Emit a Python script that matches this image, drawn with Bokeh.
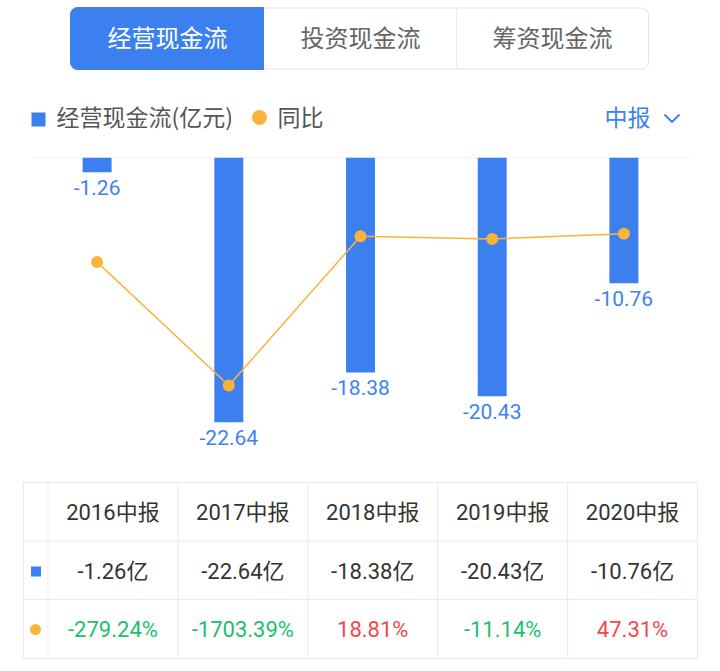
from bokeh.plotting import figure
from bokeh.models import Range1d, BoxAnnotation, ColumnDataSource, FactorRange
from bokeh.layouts import column
from bokeh.core.properties import value
from bokeh.embed import file_html
from bokeh.resources import INLINE

# ---------------- data ----------------
periods = ["2016中报", "2017中报", "2018中报", "2019中报", "2020中报"]
cash_flow = [-1.26, -22.64, -18.38, -20.43, -10.76]          # 亿元
yoy = [-279.24, -1703.39, 18.81, -11.14, 47.31]             # %
tabs = ["经营现金流", "投资现金流", "筹资现金流"]
legend_bar = "经营现金流(亿元)"
legend_line = "同比"
period_selector = "中报"

BLUE = "#3b80ee"
LABEL_BLUE = "#3d82f0"
ORANGE = "#fbb437"
GREEN = "#1dbf6b"
RED = "#f2484b"
DARK = "#333333"
GRID = "#ebebeb"
FONT = "Roboto, 'Noto Sans CJK SC'"
CJK = "Noto Sans CJK SC"
W = 720


def blank(fig):
    fig.xgrid.visible = False
    fig.ygrid.visible = False
    fig.outline_line_color = None
    fig.background_fill_color = "white"
    fig.border_fill_color = "white"
    return fig


# ---------------- header: tabs + legend ----------------
top = figure(width=W, height=157, x_range=Range1d(0, W), y_range=Range1d(157, 0),
             x_axis_type=None, y_axis_type=None, toolbar_location=None,
             output_backend="svg", min_border=0)
blank(top)
top.add_layout(BoxAnnotation(left=70, right=648, top=7.5, bottom=68.5, fill_color="white",
                             fill_alpha=1, line_color="#e3e3e3", line_alpha=1, line_width=1,
                             border_radius=7, level="underlay"))
top.add_layout(BoxAnnotation(left=70, right=263, top=7, bottom=69, fill_color=BLUE, fill_alpha=1,
                             line_color=BLUE, line_alpha=1, line_width=1, level="underlay",
                             border_radius=dict(top_left=7, top_right=0, bottom_right=0, bottom_left=7)))
top.segment(x0=[456], y0=[8], x1=[456], y1=[68], line_color="#ececec", line_width=1)
tab_x = [167, 360, 552]
top.text(x=tab_x, y=[36] * 3, text=tabs, text_color=["white", "#666666", "#666666"],
         text_font=value(CJK), text_font_size="24px", text_align="center", text_baseline="middle")

top.rect(x=[38], y=[119], width=14, height=14, fill_color=BLUE, line_color=None)
top.text(x=[56], y=[115], text=[legend_bar], text_color="#555555", text_font=value(CJK),
         text_font_size="23px", text_align="left", text_baseline="middle")
top.scatter(x=[259], y=[117], size=15, marker="circle", fill_color=ORANGE, line_color=None)
top.text(x=[277], y=[115], text=[legend_line], text_color="#555555", text_font=value(CJK),
         text_font_size="23px", text_align="left", text_baseline="middle")
top.text(x=[650], y=[115], text=[period_selector], text_color=LABEL_BLUE, text_font=value(CJK),
         text_font_size="23px", text_align="right", text_baseline="middle")
top.line(x=[664, 671.5, 679], y=[114, 121.5, 114], line_color=LABEL_BLUE, line_width=2)

# ---------------- chart ----------------
src = ColumnDataSource(dict(x=periods, v=cash_flow, yoy=yoy,
                            lbl=[f"{v:.2f}" for v in cash_flow]))
xr = FactorRange(factors=periods, range_padding=0.2335, range_padding_units="absolute")
p = figure(width=W, height=304, x_range=xr, y_range=Range1d(-26, 0),
           x_axis_type=None, y_axis_type=None, toolbar_location=None, output_backend="svg",
           min_border=0)
blank(p)
p.extra_y_ranges = {"yoy": Range1d(-2580, 928)}
p.segment(x0=[0], y0=[0], x1=[len(periods)], y1=[0], line_color="#eeeeee", line_width=1.5)
p.vbar(x="x", top=0, bottom="v", width=0.22, source=src, fill_color=BLUE, line_color=None)
p.text(x="x", y="v", text="lbl", source=src, text_color=LABEL_BLUE, text_font=value(FONT),
       text_font_size="21px", text_align="center", text_baseline="top", y_offset=8)
p.line(x="x", y="yoy", source=src, y_range_name="yoy", line_color=ORANGE, line_width=1.5)
p.scatter(x="x", y="yoy", source=src, y_range_name="yoy", size=12, marker="circle",
          fill_color=ORANGE, line_color=None)

# ---------------- table ----------------
t = figure(width=W, height=210, x_range=Range1d(0, W), y_range=Range1d(671, 461),
           x_axis_type=None, y_axis_type=None, toolbar_location=None, output_backend="svg",
           min_border=0)
blank(t)
left, first_div, right = 23, 47.5, 697
row_lines = [482, 540.5, 599, 658]
col_w = (right - first_div) / len(periods)
col_lines = [left, first_div] + [first_div + col_w * (i + 1) for i in range(len(periods))]
t.segment(x0=[left] * 4, y0=row_lines, x1=[right] * 4, y1=row_lines, line_color=GRID, line_width=1)
t.segment(x0=col_lines, y0=[row_lines[0]] * len(col_lines), x1=col_lines,
          y1=[row_lines[-1]] * len(col_lines), line_color=GRID, line_width=1)
cx = [first_div + col_w * (i + 0.5) for i in range(len(periods))]
n = len(periods)
t.text(x=cx, y=[512] * n, text=periods, text_color=DARK, text_font=value(FONT),
       text_font_size="22px", text_align="center", text_baseline="middle")
t.text(x=cx, y=[571] * n, text=[f"{v:.2f}亿" for v in cash_flow], text_color=DARK,
       text_font=value(FONT), text_font_size="22px", text_align="center", text_baseline="middle")
t.text(x=cx, y=[629] * n, text=[f"{v:.2f}%" for v in yoy],
       text_color=[RED if v > 0 else GREEN for v in yoy],
       text_font=value(FONT), text_font_size="22px", text_align="center", text_baseline="middle")
t.rect(x=[35.5], y=[571], width=10, height=10, fill_color=BLUE, line_color=None)
t.scatter(x=[35], y=[629], size=11, marker="circle", fill_color=ORANGE, line_color=None)

layout = column(top, p, t, spacing=0)
open("out.html", "w").write(file_html(layout, INLINE))
